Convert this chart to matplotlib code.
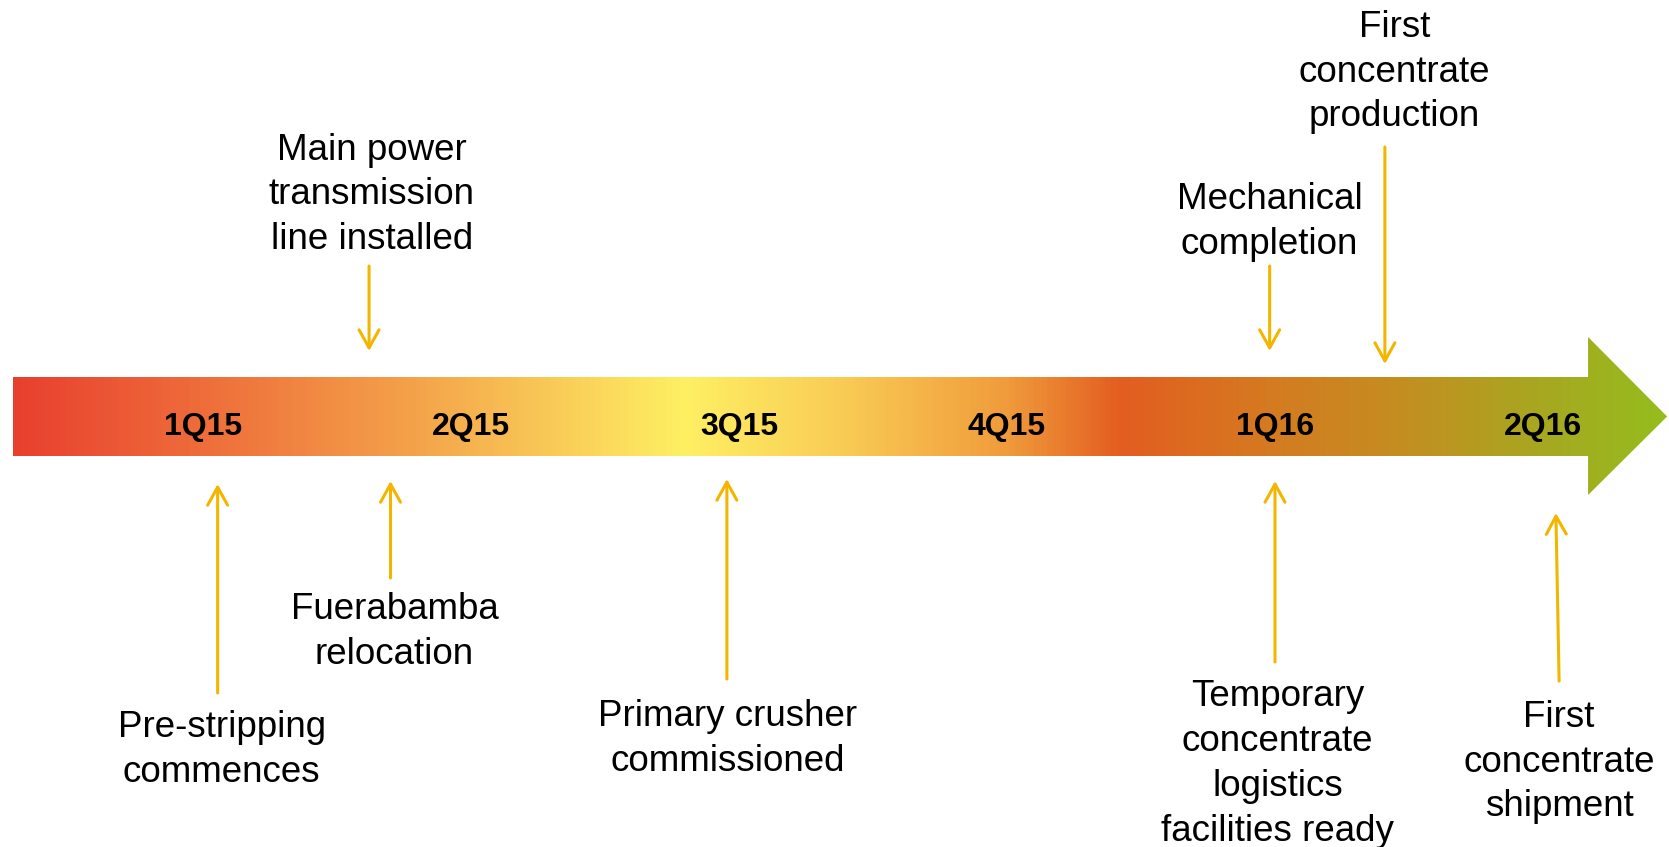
import matplotlib.pyplot as plt
import numpy as np
from matplotlib.colors import LinearSegmentedColormap
from matplotlib.patches import Polygon

plt.rcParams['font.family'] = ['Liberation Sans', 'DejaVu Sans']

# quarters along the timeline (x = index)
quarters = ['1Q15', '2Q15', '3Q15', '4Q15', '1Q16', '2Q16']

# milestones: label, position in quarters, side of the timeline
events = [
    'Main power\ntransmission\nline installed',
    'Mechanical\ncompletion',
    'First\nconcentrate\nproduction',
    'Pre-stripping\ncommences',
    'Fuerabamba\nrelocation',
    'Primary crusher\ncommissioned',
    'Temporary\nconcentrate\nlogistics\nfacilities ready',
    'First\nconcentrate\nshipment',
]
event_q = [0.62, 3.98, 4.41, 0.055, 0.70, 1.955, 4.0, 5.06]
event_side = ['above', 'above', 'above', 'below', 'below', 'below', 'below', 'below']

# layout (vertical, in pixel units from the top): arrow tail, arrow tip, text centre
arrow_tail = [266, 266, 147, 693, 578, 679, 662, 681]
arrow_tip = [351, 351, 364, 484, 481, 479, 481, 513]
text_y = [195, 222, 72, 750, 632, 739, 764, 762]
text_dx = [0.01, 0.0, 0.035, 0.015, 0.015, 0.004, 0.01, 0.0]
tip_dx = [0, 0, 0, 0, 0, 0, 0, -0.012]

# gradient stops along the big arrow
grad_pos = [0.0, 0.11, 0.24, 0.405, 0.5, 0.6, 0.67, 0.76, 0.84, 0.92, 1.0]
grad_col = ['#E8402F', '#EE6C3A', '#F4A24A', '#FEF063', '#F9CC55', '#F09C3C',
            '#E35D20', '#D57A20', '#C48E20', '#A9A621', '#95BD1D']

fig = plt.figure(figsize=(16.69, 8.47), dpi=100)
ax = fig.add_axes([0, 0, 1, 1])
ax.set_xlim(-0.757, 5.470)
ax.set_ylim(847, 0)
ax.axis('off')

# big timeline arrow
x_left, x_base, x_tip = -0.709, 5.168, 5.463
body_top, body_bot, head_top, head_bot, mid = 377, 456, 337, 495, 416.5
shape = Polygon([(x_left, body_top), (x_base, body_top), (x_base, head_top),
                 (x_tip, mid), (x_base, head_bot), (x_base, body_bot),
                 (x_left, body_bot)], closed=True, facecolor='none',
                edgecolor='none')
ax.add_patch(shape)
cmap = LinearSegmentedColormap.from_list('tl', list(zip(grad_pos, grad_col)))
grad = np.linspace(0, 1, 600).reshape(1, -1)
img = ax.imshow(grad, cmap=cmap, aspect='auto', interpolation='bilinear',
                extent=(x_left, x_tip, head_bot, head_top))
img.set_clip_path(shape)

for i, q in enumerate(quarters):
    ax.text(i, 427, q, ha='center', va='center', fontsize=23,
            fontweight='bold', color='black')

arrow_color = '#F2B600'
for lab, q, side, y0, y1, ty, dx, tdx in zip(events, event_q, event_side,
                                             arrow_tail, arrow_tip, text_y,
                                             text_dx, tip_dx):
    ax.annotate('', xy=(q + tdx, y1), xytext=(q, y0),
                arrowprops=dict(arrowstyle='->,head_length=0.65,head_width=0.36',
                                color=arrow_color, lw=2.2, mutation_scale=20,
                                shrinkA=0, shrinkB=0))
    ax.text(q + dx, ty, lab, ha='center', va='center', fontsize=26.5,
            multialignment='center', linespacing=1.37, color='black')

fig.savefig('out.png', dpi=100)
